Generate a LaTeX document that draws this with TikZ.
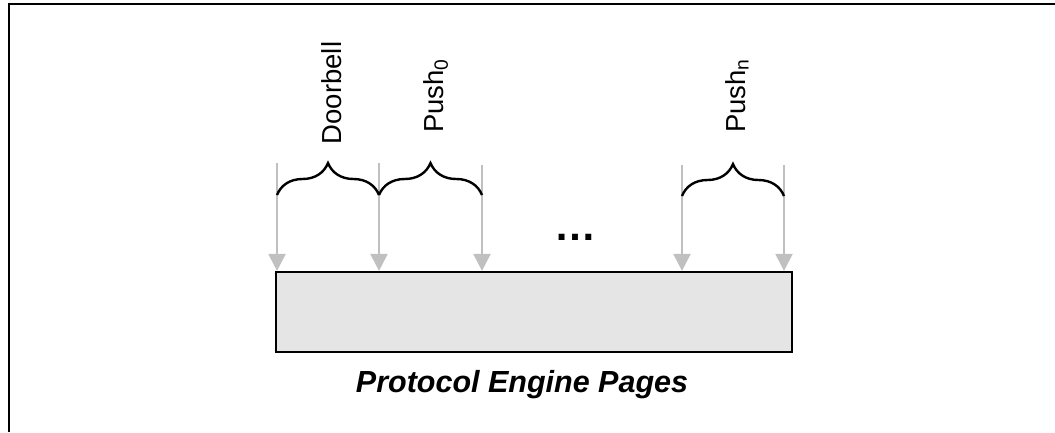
\documentclass[tikz,border=0pt]{standalone}
\usepackage{fontspec}
\setmainfont{Liberation Sans}
\usetikzlibrary{arrows.meta,decorations.pathreplacing}
\definecolor{arrowgray}{HTML}{C0C0C0}
\definecolor{boxgray}{HTML}{E5E5E5}
\tikzset{
  feed/.style={draw=arrowgray,line width=2.2pt,-{Triangle[width=17pt,length=17pt]}},
  bracefig/.style={draw=black,line width=2.4pt,decorate,decoration={brace,amplitude=32pt}},
  vlabel/.style={rotate=90,anchor=base,inner sep=0pt,font=\fontsize{27.5}{30}\selectfont},
}
\begin{document}
\begin{tikzpicture}[x=1pt,y=-1pt]
\useasboundingbox (0,0) rectangle (1055,432);
% frame
\draw[line width=2pt] (9,432) -- (9,4) -- (1055,4);
% box
\node[draw=black,line width=2.2pt,fill=boxgray,minimum width=516pt,minimum height=80pt,inner sep=0pt] (box) at (534,312) {};
% arrow tops
\coordinate (t1) at (277,163);
\coordinate (t2) at (379,163);
\coordinate (t3) at (482,165);
\coordinate (t4) at (682,165);
\coordinate (t5) at (784,165);
\foreach \i in {1,...,5} { \draw[feed] (t\i) -- (t\i |- box.north); }
% braces
\coordinate (b1) at (277,195);
\coordinate (b2) at (379,195);
\coordinate (b3) at (482,195);
\coordinate (b4) at (682,196);
\coordinate (b5) at (784,196);
\draw[bracefig] (b1) -- (b2);
\draw[bracefig] (b2) -- (b3);
\draw[bracefig] (b4) -- (b5);
% labels
\node[vlabel] (ldoor) at (341,93) {Doorbell};
\node[vlabel] (lpush0) at (443,96) {Push\textsubscript{0}};
\node[vlabel] (lpushn) at (745,96) {Push\textsubscript{n}};
\node[anchor=base,inner sep=0pt,font=\fontsize{42}{46}\selectfont\bfseries] (dots) at (575,240) {…};
\node[anchor=base,inner sep=0pt,font=\fontsize{30.5}{34}\selectfont\bfseries\itshape] (title) at (522,392) {Protocol Engine Pages};
\end{tikzpicture}
\end{document}
